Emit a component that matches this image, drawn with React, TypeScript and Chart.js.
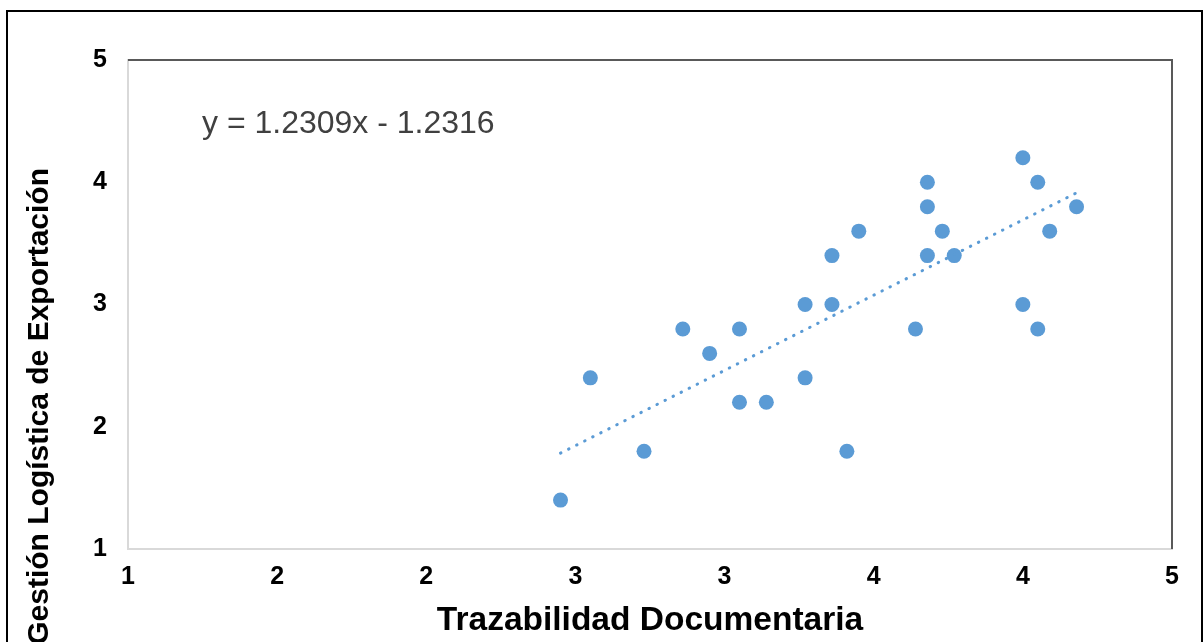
import React, { useEffect, useRef } from 'react';
import { Chart, registerables } from 'chart.js';

Chart.register(...registerables);

// ---- Data ----
const xValues = [2.45, 2.55, 2.73, 2.86, 2.95, 3.05, 3.05, 3.14, 3.27, 3.27, 3.36, 3.36, 3.41, 3.45, 3.64, 3.68, 3.68, 3.68, 3.73, 3.77, 4.0, 4.0, 4.05, 4.05, 4.09, 4.18];
const yValues = [1.4, 2.4, 1.8, 2.8, 2.6, 2.8, 2.2, 2.2, 3.0, 2.4, 3.4, 3.0, 1.8, 3.6, 2.8, 4.0, 3.8, 3.4, 3.6, 3.4, 4.2, 3.0, 4.0, 2.8, 3.6, 3.8];
const xTickLabels = ['1', '2', '2', '3', '3', '4', '4', '5'];
const yTickLabels = ['1', '2', '3', '4', '5'];
const trendSlope = 1.2309;
const trendIntercept = -1.2316;
const equationText = 'y = 1.2309x - 1.2316';
const xTitle = 'Trazabilidad Documentaria';
const yTitle = 'Gestión Logística de Exportación';

const FONT = "'Liberation Sans', Arial, sans-serif";
const BLUE = '#5B9BD5';

export default function App() {
  const canvasRef = useRef<HTMLCanvasElement | null>(null);

  useEffect(() => {
    const canvas = canvasRef.current;
    if (!canvas) return;

    const points = xValues.map((x, i) => ({ x, y: yValues[i] }));
    const xMin = Math.min(...xValues);
    const xMax = Math.max(...xValues);
    const trend = [
      { x: xMin, y: trendSlope * xMin + trendIntercept },
      { x: xMax, y: trendSlope * xMax + trendIntercept },
    ];

    const decor = {
      id: 'decor',
      afterDraw(chart: any) {
        const { ctx, chartArea } = chart;
        ctx.save();
        // top & right frame of the plot area (dark)
        ctx.strokeStyle = '#595959';
        ctx.lineWidth = 2;
        ctx.beginPath();
        ctx.moveTo(chartArea.left, chartArea.top);
        ctx.lineTo(chartArea.right, chartArea.top);
        ctx.lineTo(chartArea.right, chartArea.bottom);
        ctx.stroke();

        // equation label
        ctx.fillStyle = '#404040';
        ctx.font = `32px ${FONT}`;
        ctx.textAlign = 'left';
        ctx.textBaseline = 'alphabetic';
        ctx.fillText(equationText, chartArea.left + 74, chartArea.top + 73);

        // y axis title (ends near top, runs below the visible area)
        ctx.fillStyle = '#000000';
        ctx.font = `bold 30px ${FONT}`;
        ctx.translate(48, chartArea.top + 108);
        ctx.rotate(-Math.PI / 2);
        ctx.textAlign = 'right';
        ctx.textBaseline = 'alphabetic';
        ctx.fillText(yTitle, 0, 0);
        ctx.restore();
      },
    };

    const chart = new Chart(canvas, {
      type: 'scatter',
      data: {
        datasets: [
          {
            type: 'line',
            data: trend,
            borderColor: BLUE,
            borderWidth: 3,
            borderDash: [0.5, 8.5],
            borderCapStyle: 'round',
            pointRadius: 0,
            fill: false,
            order: 0,
          } as any,
          {
            data: points,
            backgroundColor: BLUE,
            borderWidth: 0,
            pointRadius: 7.5,
            order: 1,
          },
        ],
      },
      options: {
        responsive: false,
        animation: false,
        layout: { padding: { top: 60, right: 31, left: 0, bottom: 0 } },
        plugins: {
          legend: { display: false },
          tooltip: { enabled: false },
        },
        scales: {
          x: {
            type: 'linear',
            min: 1,
            max: 4.5,
            afterFit: (scale: any) => {
              scale.height = 93;
            },
            grid: { display: false, drawTicks: false },
            border: { display: true, color: '#D9D9D9', width: 2 },
            ticks: {
              stepSize: 0.5,
              autoSkip: false,
              maxRotation: 0,
              padding: 13,
              color: '#000000',
              font: { family: FONT, size: 25, weight: 'bold' },
              callback: (_v: any, i: number) => xTickLabels[i],
            },
            title: {
              display: true,
              text: xTitle,
              color: '#000000',
              font: { family: FONT, size: 33.5, weight: 'bold' },
              padding: { top: 0, bottom: 1 },
            },
          },
          y: {
            type: 'linear',
            min: 1,
            max: 5,
            afterFit: (scale: any) => {
              scale.width = 128;
            },
            grid: { display: false, drawTicks: false },
            border: { display: true, color: '#D9D9D9', width: 2 },
            ticks: {
              stepSize: 1,
              padding: 21,
              color: '#000000',
              font: { family: FONT, size: 25, weight: 'bold' },
              callback: (_v: any, i: number) => yTickLabels[i],
            },
          },
        },
      },
      plugins: [decor],
    });

    return () => chart.destroy();
  }, []);

  return (
    <div style={{ position: 'absolute', left: 0, top: 0, width: 1203, height: 642, overflow: 'hidden', background: '#fff' }}>
      <canvas ref={canvasRef} width={1203} height={642} style={{ display: 'block', width: 1203, height: 642 }} />
      <div
        style={{
          position: 'absolute',
          left: 6,
          top: 10,
          width: 1197,
          height: 700,
          boxSizing: 'border-box',
          border: '2px solid #000',
          pointerEvents: 'none',
        }}
      />
    </div>
  );
}
